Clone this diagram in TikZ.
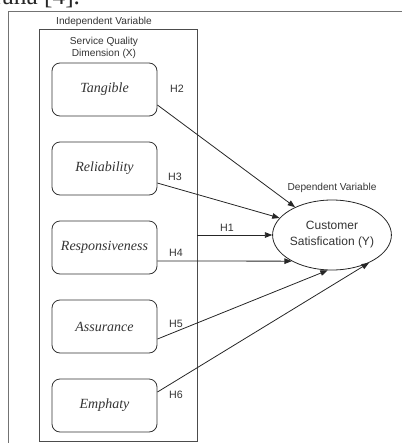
\documentclass[tikz,border=0pt]{standalone}
\usepackage{fontspec}
\setmainfont{Liberation Serif}
\setsansfont{Liberation Sans}
\usetikzlibrary{shapes.geometric,arrows.meta}
\begin{document}
\begin{tikzpicture}[x=0.75pt,y=-0.75pt,
  lbl/.style={font=\sffamily\fontsize{7.6}{9.2}\selectfont, text=black!80, inner sep=0pt},
  hlbl/.style={font=\sffamily\fontsize{8}{9.6}\selectfont, text=black!80, inner sep=0pt},
  dimbox/.style={draw=black!80, line width=0.6pt, rounded corners=6pt, minimum width=78.75pt, minimum height=39.75pt, inner sep=0pt, font=\itshape\fontsize{10.5}{12}\selectfont, text=black!80},
  arr/.style={-{Triangle[length=5.5pt,width=4.2pt]}, draw=black!85, line width=0.6pt},
  frame/.style={draw=black!55, line width=0.7pt}]
\useasboundingbox (0,0) rectangle (402,443);
% cut-off text at top
\begin{scope}
\clip (0,0) rectangle (402,8.5);
\node[anchor=base west, inner sep=0pt, font=\fontsize{19}{22}\selectfont, text=black!85] (frag) at (-6,4.5) {rana [4].};
\end{scope}
% outer frame
\draw[frame] (8,443) -- (8,11) -- (402,11);
\node[lbl] (indep) at (104,22) {Independent Variable};
% inner box
\node[draw=black!70, line width=0.6pt, minimum width=118.5pt, minimum height=309pt, inner sep=0pt] (inner) at (118,235) {};
\node[lbl, align=center] (sq) at (104,48) {Service Quality\\Dimension (X)};
% dimension boxes
\node[dimbox] (tang) at (104.5,89.5) {Tangible};
\node[dimbox] (rel) at (104.5,168.5) {Reliability};
\node[dimbox] (resp) at (104.5,247.5) {Responsiveness};
\node[dimbox] (ass) at (104.5,326.5) {Assurance};
\node[dimbox] (emp) at (104.5,405.5) {Emphaty};
% dependent
\node[draw=black!85, line width=0.6pt, ellipse, minimum width=79.5pt, minimum height=52.5pt, inner sep=0pt, align=center, font=\sffamily\fontsize{9}{12}\selectfont, text=black!80] (ell) at (332,235) {Customer\\Satisfication (Y)};
\node[lbl] (dep) at (332,188) {Dependent Variable};
% arrows
\draw[arr] ([yshift=-11.6pt]tang.east) -- (ell.143);
\draw[arr] ([yshift=-10.9pt]rel.east) -- (ell.162);
\draw[arr] (inner.east) -- (ell.west);
\draw[arr] ([yshift=-10.1pt]resp.east) -- (ell.213);
\draw[arr] ([yshift=-9.4pt]ass.east) -- (ell.263);
\draw[arr] ([yshift=10.1pt]emp.east) -- (ell.323);
% labels
\node[hlbl] (h2) at (177,89) {H2};
\node[hlbl] (h3) at (175,177) {H3};
\node[hlbl] (h1) at (227,228) {H1};
\node[hlbl] (h4) at (176,253) {H4};
\node[hlbl] (h5) at (176,324) {H5};
\node[hlbl] (h6) at (176,395) {H6};
\end{tikzpicture}
\end{document}
